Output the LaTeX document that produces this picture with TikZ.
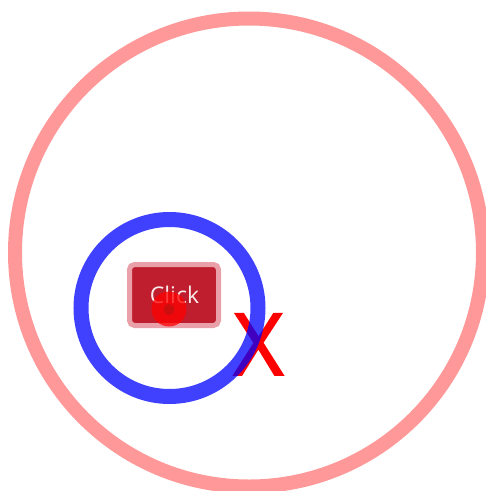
\documentclass[tikz,border=0pt]{standalone}
\usepackage{fontspec}
\setmainfont{Open Sans}
\newfontfamily\xmarkfont[FakeBold=2]{Open Sans}
\definecolor{pinkring}{RGB}{255,153,153}
\definecolor{bluering}{RGB}{0,0,255}
\definecolor{btnfill}{RGB}{190,30,45}
\definecolor{btnedge}{RGB}{233,160,168}
\definecolor{dotcore}{RGB}{200,16,16}
\definecolor{clicktext}{RGB}{250,235,235}
\tikzset{
  ring/.style={circle, draw, inner sep=0pt, line width=14pt},
  button/.style={rectangle, rounded corners=5pt, draw=btnedge, fill=btnfill, line width=5pt, inner sep=0pt},
}
\begin{document}
\begin{tikzpicture}[x=1pt,y=-1pt]
\useasboundingbox (0,0) rectangle (486,491);
\clip (0,0) rectangle (486,491);
% outer pink ring
\node[ring, draw=pinkring, minimum size=468pt] (outer) at (249,252.5) {};
% button
\node[button, minimum width=89pt, minimum height=61pt] (btn) at (174,295) {};
\node[anchor=base, inner sep=0pt, text=clicktext, font=\fontsize{23}{27}\selectfont] (lbl) at (174.5,303) {Click};
% red touch dot
\node[circle, fill=red, fill opacity=0.75, minimum size=35pt, inner sep=0pt] (dot) at (169,309) {};
\node[circle, fill=dotcore, fill opacity=0.9, minimum size=11pt, inner sep=0pt] (core) at (169,309.5) {};
% X mark
\node[anchor=base, inner sep=0pt, text=red, font=\fontsize{86}{90}\xmarkfont] (xmark) at (258.5,375) {X};
% blue ring
\node[ring, draw=bluering, draw opacity=0.75, line width=15pt, minimum size=177pt] (inner) at (169.5,308) {};
\end{tikzpicture}
\end{document}
